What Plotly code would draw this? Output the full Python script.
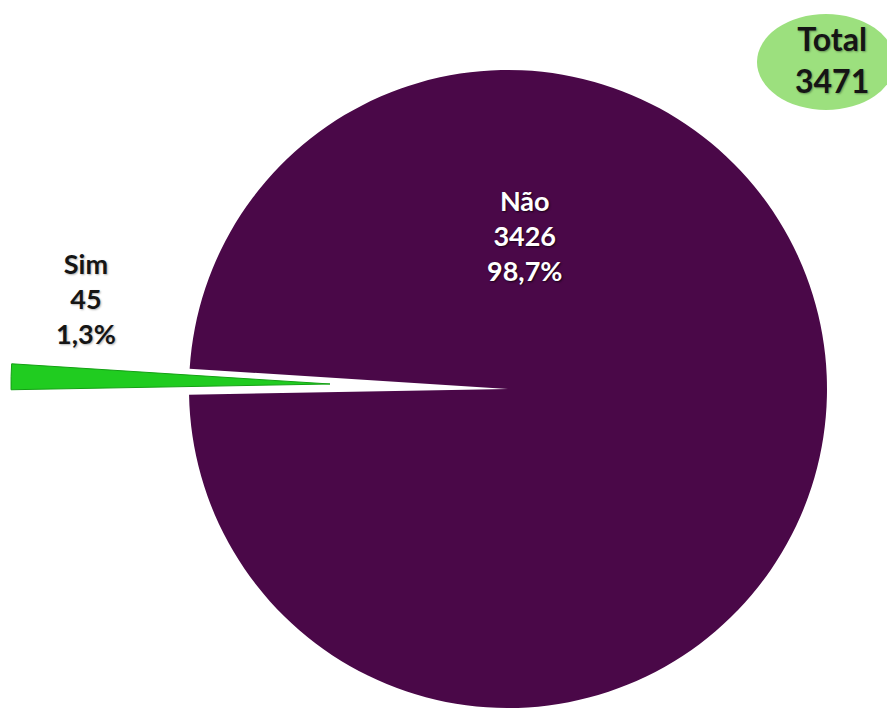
import plotly.graph_objects as go

# ---- data ----
labels = ["Sim", "Não"]
values = [45, 3426]
total_label = "Total"

# ---- layout constants (pixels, measured on the 895x711 page) ----
OFF = 8                      # page body margin
W, H = 895 - OFF, 711 - OFF  # figure fits the window exactly
FONT = "Lato, 'Open Sans', sans-serif"


def px(x):
    return (x - OFF) / W


def py(y):
    return 1 - (y - OFF) / H


def pie_domain(cx, cy, r):
    return dict(x=[px(cx - r), px(cx + r)], y=[py(cy + r), py(cy - r)])


total = sum(values)
pcts = [v / total * 100 for v in values]
sim_frac = values[0] / total
# centre the "Sim" slice a bit above 9 o'clock
rotation = 271.3 - 360 * sim_frac / 2

PURPLE = "#4A0848"
GREEN = "#20CC20"
CLEAR = "rgba(0,0,0,0)"

fig = go.Figure()

# main pie: "Não" slice, with a gap where "Sim" was
fig.add_trace(go.Pie(
    labels=labels, values=values, sort=False, direction="clockwise",
    rotation=rotation, textinfo="none", showlegend=False,
    marker=dict(colors=[CLEAR, PURPLE], line=dict(width=0)),
    domain=pie_domain(508, 389, 319),
    hovertemplate="%{label}: %{value}<extra></extra>",
))

# exploded "Sim" slice
fig.add_trace(go.Pie(
    labels=labels, values=values, sort=False, direction="clockwise",
    rotation=rotation, textinfo="none", showlegend=False,
    marker=dict(colors=[GREEN, CLEAR],
                line=dict(width=[1, 0], color=["#14A014", CLEAR])),
    domain=pie_domain(330, 384, 319),
    hovertemplate="%{label}: %{value}<extra></extra>",
))


def fmt_pct(p):
    return f"{p:.1f}".replace(".", ",") + "%"


# labels
fig.add_annotation(
    x=px(524), y=py(235), xref="paper", yref="paper", showarrow=False,
    xanchor="center", yanchor="middle",
    text=f"{labels[1]}<br>{values[1]}<br>{fmt_pct(pcts[1])}",
    font=dict(family=FONT, size=27, color="white", weight="bold",
              shadow="1px 1px 2px rgba(0,0,0,0.7)"),
    align="center",
)
fig.add_annotation(
    x=px(86), y=py(298), xref="paper", yref="paper", showarrow=False,
    xanchor="center", yanchor="middle",
    text=f"{labels[0]}<br>{values[0]}<br>{fmt_pct(pcts[0])}",
    font=dict(family=FONT, size=27, color="#151515", weight="bold",
              shadow="1px 1px 2px rgba(0,0,0,0.3)"),
    align="center",
)

# total badge
fig.add_shape(type="circle", xref="paper", yref="paper",
              x0=px(757), x1=px(895), y0=py(110), y1=py(14),
              fillcolor="#9CE07E", line=dict(width=0), layer="below")
fig.add_annotation(
    x=px(832), y=py(59), xref="paper", yref="paper", showarrow=False,
    xanchor="center", yanchor="middle",
    text=f"{total_label}<br>{total}",
    font=dict(family=FONT, size=32, color="#151515", weight="bold",
              shadow="1px 1px 2px rgba(0,0,0,0.35)"),
    align="center",
)

fig.update_layout(
    width=W, height=H, margin=dict(l=0, r=0, t=0, b=0),
    paper_bgcolor="white", plot_bgcolor="white",
)

fig.write_html("out.html")
